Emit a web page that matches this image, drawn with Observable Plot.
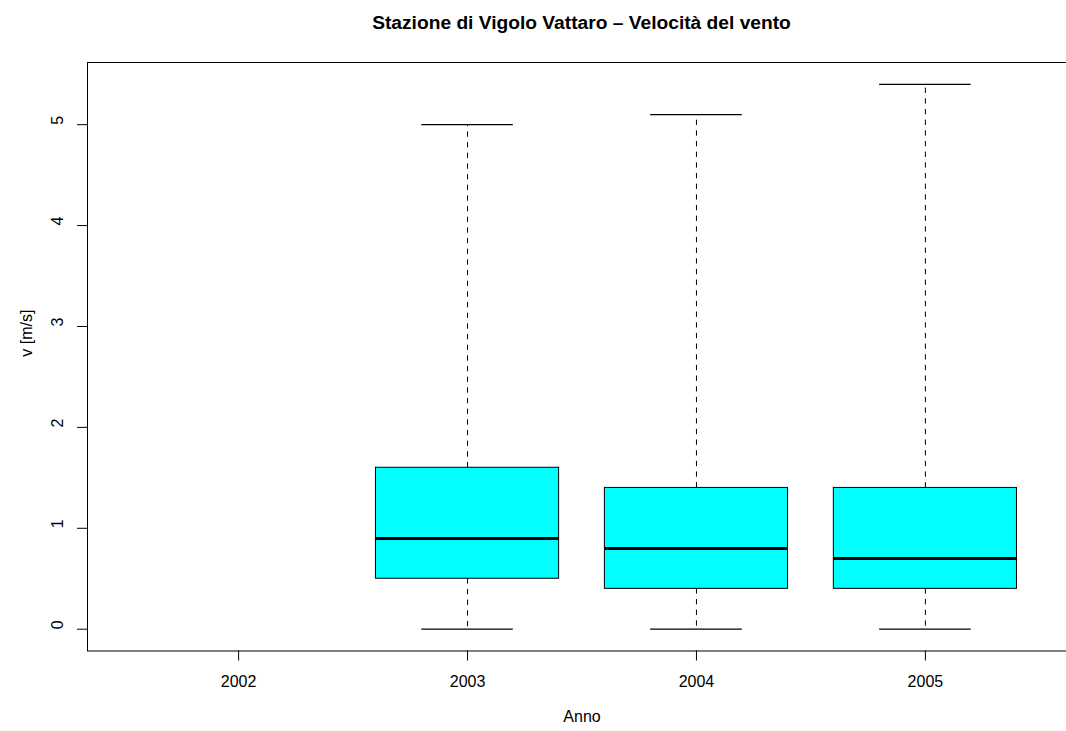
<!DOCTYPE html>
<html>
<head>
<meta charset="utf-8">
<script src="https://cdn.jsdelivr.net/npm/d3@7"></script>
<script src="https://cdn.jsdelivr.net/npm/@observablehq/plot@0.6"></script>
<style>
  html, body { margin: 0; padding: 0; background: white; overflow: hidden; }
  #title { height: 40px; line-height: 46px; text-align: center; font-family: "Liberation Sans", Arial, Helvetica, sans-serif; font-weight: bold; font-size: 19.2px; color: #000; padding-left: 97px; box-sizing: border-box; width: 1066px; overflow: visible; }
  #chart svg { overflow: hidden; }
</style>
</head>
<body>
<div id="title">Stazione di Vigolo Vattaro – Velocità del vento</div>
<div id="chart"></div>
<script>
const years   = [2002, 2003, 2004, 2005];
const mins    = [null, 0.0, 0.0, 0.0];
const q1s     = [null, 0.5, 0.4, 0.4];
const medians = [null, 0.9, 0.8, 0.7];
const q3s     = [null, 1.6, 1.4, 1.4];
const maxs    = [null, 5.0, 5.1, 5.4];
const yTicks  = [0, 1, 2, 3, 4, 5];
const xLabel  = "Anno";
const yLabel  = "v [m/s]";

const data = years.map((year, i) => ({
  year, min: mins[i], q1: q1s[i], median: medians[i], q3: q3s[i], max: maxs[i]
})).filter(d => d.median != null);

const boxHalf = 0.4, capHalf = 0.2;

const chart = Plot.plot({
  width: 1066,
  height: 691,
  marginTop: 22,
  marginBottom: 80.5,
  marginLeft: 87,
  marginRight: -10,
  style: { fontFamily: "'Liberation Sans', Arial, Helvetica, sans-serif", fontSize: "16px", background: "white", color: "black" },
  x: { type: "linear", domain: [2001.34, 2005.66] },
  y: { domain: [-0.216, 5.616] },
  marks: [
    // whiskers (dashed)
    Plot.ruleX(data, { x: "year", y1: "q3", y2: "max", stroke: "black", strokeWidth: 1, strokeDasharray: "5.33,5.33" }),
    Plot.ruleX(data, { x: "year", y1: "q1", y2: "min", stroke: "black", strokeWidth: 1, strokeDasharray: "5.33,5.33" }),
    // caps
    Plot.ruleY(data, { y: "max", x1: d => d.year - capHalf, x2: d => d.year + capHalf, stroke: "black", strokeWidth: 1.3 }),
    Plot.ruleY(data, { y: "min", x1: d => d.year - capHalf, x2: d => d.year + capHalf, stroke: "black", strokeWidth: 1.3 }),
    // boxes
    Plot.rect(data, { x1: d => d.year - boxHalf, x2: d => d.year + boxHalf, y1: "q1", y2: "q3", fill: "#00FFFF", stroke: "black", strokeWidth: 1 }),
    // medians
    Plot.ruleY(data, { y: "median", x1: d => d.year - boxHalf, x2: d => d.year + boxHalf, stroke: "black", strokeWidth: 3 }),
    // frame
    Plot.frame({ stroke: "black", strokeWidth: 1 }),
    // axes
    Plot.axisX({ ticks: years, tickFormat: d => String(d), tickSize: 10, tickPadding: 14.5, label: null, fontSize: 16 }),
    Plot.axisY({ ticks: yTicks, tickFormat: () => "", tickSize: 10, label: null }),
    Plot.text(yTicks, { y: d => d, text: d => String(d), frameAnchor: "left", dx: -29.5, rotate: -90, fontSize: 16, fill: "black" }),
    // axis titles
    Plot.text([xLabel], { text: d => d, frameAnchor: "bottom", dy: 70.5, fontSize: 16, fill: "black" }),
    Plot.text([yLabel], { text: d => d, frameAnchor: "left", dx: -61, rotate: -90, fontSize: 16, fill: "black" })
  ]
});
document.getElementById("chart").appendChild(chart);
</script>
</body>
</html>
